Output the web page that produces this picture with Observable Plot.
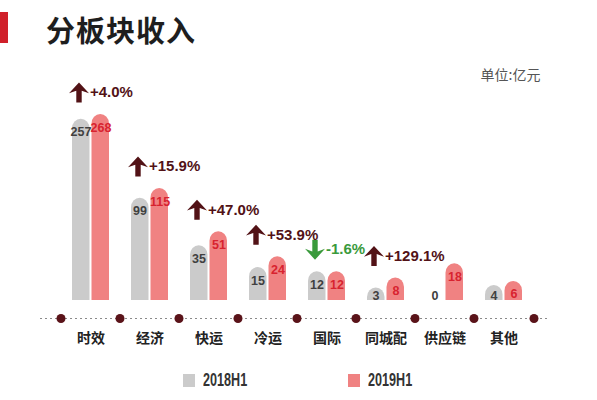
<!DOCTYPE html>
<html>
<head>
<meta charset="utf-8">
<script src="https://cdn.jsdelivr.net/npm/d3@7"></script>
<script src="https://cdn.jsdelivr.net/npm/@observablehq/plot@0.6"></script>
<style>
  body { margin: 0; background: #fff; font-family: "Noto Sans CJK SC", sans-serif; }
  #page { position: relative; width: 597px; height: 400px; overflow: hidden; }
  #head { position: relative; height: 58px; }
  #head .mark { position: absolute; left: 0; top: 12px; width: 8px; height: 31px; background: #d0202a; }
  #head h1 { position: absolute; left: 46px; top: 9px; margin: 0; font-size: 29px; line-height: 40px; font-weight: 700; color: #1e1e1e; letter-spacing: 1px; }
  #legend { position: absolute; top: 370px; left: 0; width: 597px; height: 24px; }
  #legend .item { position: absolute; top: 0; display: flex; align-items: center; font-family: "Liberation Sans", sans-serif; font-weight: 700; font-size: 18px; color: #333; }
  #legend .sw { width: 12px; height: 13px; margin-right: 8px; }
  #legend span { display: inline-block; transform: scaleX(0.7); transform-origin: left center; }
  svg [aria-label^="x-axis"] text { font-weight: 600; fill: #222; }
</style>
</head>
<body>
<div id="page">
  <div id="head"><div class="mark"></div><h1>分板块收入</h1></div>
  <div id="chart"></div>
  <div id="legend"></div>
</div>
<script>
// 数据：分板块收入（亿元）
const categories = ["时效", "经济", "快运", "冷运", "国际", "同城配", "供应链", "其他"];
const series = ["2018H1", "2019H1"];
const rev2018 = [257, 99, 35, 15, 12, 3, 0, 4];
const rev2019 = [268, 115, 51, 24, 12, 8, 18, 6];
const growth = ["+4.0%", "+15.9%", "+47.0%", "+53.9%", "-1.6%", "+129.1%", null, null];

const colors = {"2018H1": "#cbcbcb", "2019H1": "#f08282"};
const labelColors = {"2018H1": "#404040", "2019H1": "#d8232f"};
const upColor = "#521216", downColor = "#3a9a3c";

const rows = categories.flatMap((c, i) => [
  {cat: c, series: "2018H1", value: rev2018[i]},
  {cat: c, series: "2019H1", value: rev2019[i]}
]);
const notes = categories
  .map((c, i) => ({cat: c, text: growth[i], top: Math.max(rev2018[i], rev2019[i])}))
  .filter(d => d.text != null);
const isDown = d => d.text.startsWith("-");

// 实心箭头符号（头大杆细）
function arrowSymbol(dir) {
  return {
    draw(ctx, size) {
      const r = Math.sqrt(size / Math.PI);
      const p = [[0, -r], [r, 0.08 * r], [0.27 * r, -0.18 * r], [0.27 * r, r],
                 [-0.27 * r, r], [-0.27 * r, -0.18 * r], [-r, 0.08 * r]];
      p.forEach(([x, y], i) => i ? ctx.lineTo(x, dir * y) : ctx.moveTo(x, dir * y));
      ctx.closePath();
    }
  };
}

const numFont = "'Liberation Sans', Arial, sans-serif";

let chart = Plot.plot({
  width: 597,
  height: 300,
  marginLeft: 46,
  marginRight: 49,
  marginTop: 20,
  marginBottom: 58,
  x: {domain: categories, padding: 0.367, tickSize: 0, tickPadding: 33, label: null},
  y: {type: "pow", exponent: 0.6, domain: [0, 360], axis: null},
  style: {fontFamily: "Noto Sans CJK SC", fontSize: "14px", background: "white", overflow: "visible"},
  marks: [
    // 2018 左半，2019 右半
    Plot.barY(rows.filter(d => d.series === "2018H1"), {
      x: "cat", y: "value", fill: colors["2018H1"], insetRight: 19.5, insetBottom: -12, rx: 9.5, clip: true
    }),
    Plot.barY(rows.filter(d => d.series === "2019H1"), {
      x: "cat", y: "value", fill: colors["2019H1"], insetLeft: 19.5, insetBottom: -12, rx: 9.5, clip: true
    }),
    Plot.text(rows.filter(d => d.series === "2018H1"), {
      x: "cat", y: d => Math.max(d.value, 5), text: d => String(d.value), dx: -10, dy: 13,
      fill: labelColors["2018H1"], fontFamily: numFont, fontSize: 12.5, fontWeight: 700, ariaLabel: "values"
    }),
    Plot.text(rows.filter(d => d.series === "2019H1"), {
      x: "cat", y: d => Math.max(d.value, 5), text: d => String(d.value), dx: 10, dy: 13,
      fill: labelColors["2019H1"], fontFamily: numFont, fontSize: 12.5, fontWeight: 700, ariaLabel: "values"
    }),
    // 增长箭头与百分比
    Plot.dot(notes.filter(d => !isDown(d)), {
      x: "cat", y: "top", dx: -12, dy: -22, r: 10, symbol: arrowSymbol(1), fill: upColor, stroke: null
    }),
    Plot.dot(notes.filter(isDown), {
      x: "cat", y: "top", dx: -12, dy: -22, r: 10, symbol: arrowSymbol(-1), fill: downColor, stroke: null
    }),
    Plot.text(notes, {
      x: "cat", y: "top", text: "text", dx: -1, dy: -22, textAnchor: "start",
      fill: d => isDown(d) ? downColor : upColor,
      fontFamily: numFont, fontSize: 15, fontWeight: 700, ariaLabel: "growth"
    }),
    // 虚线与圆点
    Plot.ruleY([0], {dy: 18, stroke: "#8a8a8a", strokeDasharray: "2,3", strokeWidth: 1, insetLeft: -6}),
    Plot.dot(categories, {x: d => d, frameAnchor: "bottom", dx: -30, dy: 18, r: 4.5, fill: "#5a1319"}),
    Plot.dot(categories.slice(-1), {x: d => d, frameAnchor: "bottom", dx: 30, dy: 18, r: 4.5, fill: "#5a1319"}),
    // 单位
    Plot.text(["单位:亿元"], {
      frameAnchor: "top-right", dx: -8, dy: -3, textAnchor: "end", lineAnchor: "middle",
      fill: "#555", fontSize: 14
    })
  ]
});
d3.select('#chart').append(() => chart);

// 数字用窄体效果：按比例压缩字宽
function squeeze(sel, k) {
  sel.each(function() {
    const w = this.getComputedTextLength();
    d3.select(this).attr("textLength", w * k).attr("lengthAdjust", "spacingAndGlyphs");
  });
}
squeeze(d3.select(chart).selectAll('[aria-label="values"] text'), 0.72);
squeeze(d3.select(chart).selectAll('[aria-label="growth"] text'), 0.84);

// 图例
const legendX = {"2018H1": 183, "2019H1": 348};
const legend = d3.select('#legend');
series.forEach(s => {
  const item = legend.append('div').attr('class', 'item').style('left', legendX[s] + 'px');
  item.append('div').attr('class', 'sw').style('background', colors[s]);
  item.append('span').text(s);
});
</script>
</body>
</html>
